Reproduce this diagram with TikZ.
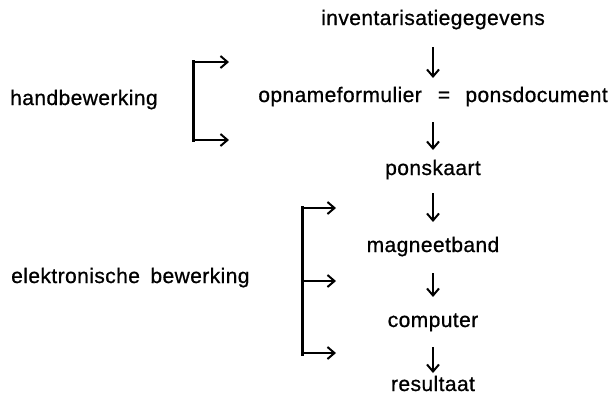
\documentclass[tikz,border=0pt]{standalone}
\usepackage{fontspec}
\setmainfont{Liberation Sans}[LetterSpace=2,FakeBold=0.8]
\usetikzlibrary{arrows.meta,calc}
\begin{document}
\begin{tikzpicture}[x=1pt,y=-1pt,
  lbl/.style={font=\fontsize{21}{25}\selectfont, inner sep=0pt, anchor=base},
  varr/.style={line width=2.2pt, -{Straight Barb[length=7pt,width=12pt,line width=2pt]}},
  brk/.style={line width=3pt}]
\useasboundingbox (0,0) rectangle (613,394);
% column texts
\node[lbl] (inv) at (433,25) {inventarisatiegegevens};
\node[lbl, anchor=base east] (opf) at (422,102) {opnameformulier};
\node[lbl] (eq) at (444,102) {=};
\node[lbl, anchor=base east] (pd) at (608,102) {ponsdocument};
\node[lbl] (pk) at (433,175) {ponskaart};
\node[lbl] (mb) at (433,252) {magneetband};
\node[lbl] (cp) at (433,327) {computer};
\node[lbl] (rs) at (433,391) {resultaat};
% left labels
\node[lbl, anchor=base west] (hb) at (10,105) {handbewerking};
\node[lbl, anchor=base west] (eb) at (11,283) {elektronische\hspace{0.5em}bewerking};
% vertical arrows
\draw[varr] ($(inv.base)+(0,22)$) -- ($(inv.base |- opf.base)+(0,-24)$);
\draw[varr] ($(inv.base |- opf.base)+(0,20)$) -- ($(pk.base)+(0,-25)$);
\draw[varr] ($(pk.base)+(0,18)$) -- ($(mb.base)+(0,-30)$);
\draw[varr] ($(mb.base)+(0,21)$) -- ($(cp.base)+(0,-30)$);
\draw[varr] ($(cp.base)+(0,20)$) -- ($(rs.base)+(0,-18)$);
% bracket 1
\coordinate (b1t) at (193,60);
\coordinate (b1b) at (193,142);
\draw[brk] (b1t) -- (b1b);
\coordinate (h1s) at (195,62);  \coordinate (h1e) at (229,62);
\coordinate (h2s) at (195,140); \coordinate (h2e) at (229,140);
\draw[varr] (h1s) -- (h1e);
\draw[varr] (h2s) -- (h2e);
% bracket 2
\coordinate (b2t) at (302,206);
\coordinate (b2b) at (302,356);
\draw[brk] (b2t) -- (b2b);
\coordinate (e1s) at (304,208); \coordinate (e1e) at (336,208);
\coordinate (e2s) at (304,281); \coordinate (e2e) at (336,281);
\coordinate (e3s) at (304,353); \coordinate (e3e) at (336,353);
\draw[varr] (e1s) -- (e1e);
\draw[varr] (e2s) -- (e2e);
\draw[varr] (e3s) -- (e3e);
\end{tikzpicture}
\end{document}
